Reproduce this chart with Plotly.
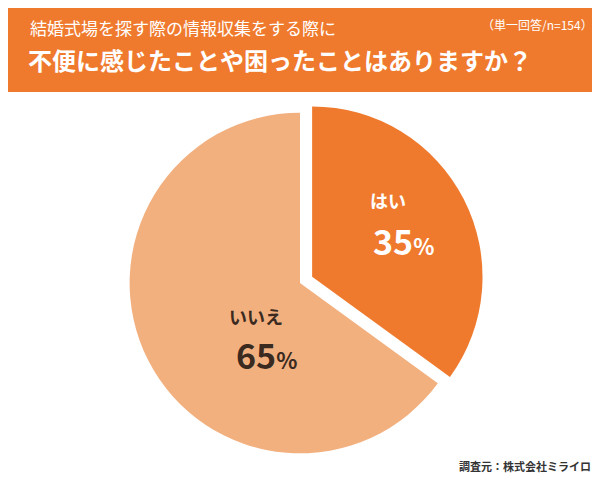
import plotly.graph_objects as go

labels = ["はい", "いいえ"]
values = [35, 65]
colors = ["#EF7A2E", "#F2B07F"]

W, H = 600, 485
def px(x): return x / W
def py(y): return 1 - y / H

fig = go.Figure(go.Pie(
    labels=labels, values=values, sort=False, direction="clockwise", rotation=0,
    marker=dict(colors=colors, line=dict(color="white", width=0)),
    pull=[0.08, 0], textinfo="none", hoverinfo="label+percent",
    domain=dict(x=[px(108), px(476)], y=[py(459), py(91)]),
))
font = "Noto Sans CJK JP"
def ann(x, y, text, size, color, xanchor="center"):
    return dict(x=px(x), y=py(y), text=text, showarrow=False, xanchor=xanchor, yanchor="middle",
                font=dict(size=size, color=color, family=font))
fig.update_layout(
    width=W, height=H, margin=dict(l=0, r=0, t=0, b=0), showlegend=False,
    paper_bgcolor="white", font=dict(family=font),
    shapes=[dict(type="rect", xref="paper", yref="paper", x0=0, x1=1,
                 y0=py(84), y1=1, fillcolor="#EF7A2E", line=dict(width=0), layer="below")],
    annotations=[
        ann(20, 20, "結婚式場を探す際の情報収集をする際に", 17, "white", "left"),
        ann(587, 17, "（単一回答/n=154）", 12, "white", "right"),
        ann(18, 52, "<b>不便に感じたことや困ったことはありますか？</b>", 24, "white", "left"),
        ann(380, 192, "<b>はい</b>", 18, "white"),
        ann(395, 232, "<b>35<span style='font-size:22px'>%</span></b>", 34, "white"),
        ann(248, 308, "<b>いいえ</b>", 18, "#3a2a20"),
        ann(258, 346, "<b>65<span style='font-size:22px'>%</span></b>", 34, "#3a2a20"),
        ann(585, 458, "<b>調査元：株式会社ミライロ</b>", 11, "#333333", "right"),
    ],
)
fig.write_html("out.html")
